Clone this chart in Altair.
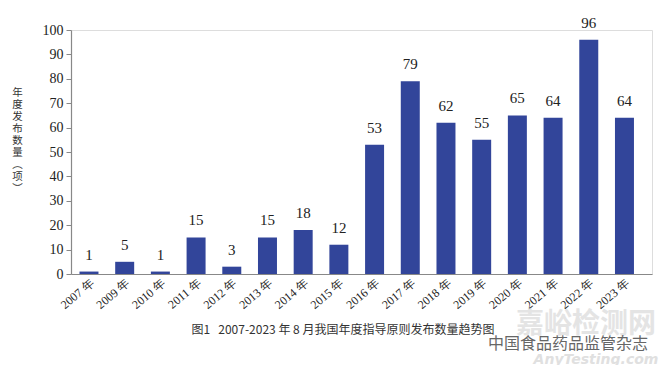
import altair as alt
import pandas as pd

years = ["2007 年", "2009 年", "2010 年", "2011 年", "2012 年", "2013 年", "2014 年", "2015 年",
         "2016 年", "2017 年", "2018 年", "2019 年", "2020 年", "2021 年", "2022 年", "2023 年"]
counts = [1, 5, 1, 15, 3, 15, 18, 12, 53, 79, 62, 55, 65, 64, 96, 64]
y_title = ["年", "度", "发", "布", "数", "量", "︵", "项", "︶"]
caption = "图1\u00a0\u00a0\u00a02007-2023 年 8 月我国年度指导原则发布数量趋势图"
wm_big = "嘉峪检测网"
wm_mid = "中国食品药品监管杂志"
wm_small = "AnyTesting.com"

df = pd.DataFrame({"year": years, "count": counts})

SERIF = "Liberation Serif"
W, H = 581, 244

xscale = alt.Scale(paddingInner=0.468, paddingOuter=0.3715, align=0.32)
yscale = alt.Scale(domain=[0, 100], nice=False)

x = alt.X("year:N", sort=years, scale=xscale,
          axis=alt.Axis(title=None, labelAngle=-40, labelAlign="right", labelBaseline="top",
                        labelFont=SERIF, labelFontSize=12, labelColor="#222",
                        ticks=False, domainColor="#888", domainWidth=1.2, labelPadding=3))
y = alt.Y("count:Q", scale=yscale,
          axis=alt.Axis(title=y_title, titleAngle=0, titleX=-54, titleY=57,
                        titleAlign="center", titleBaseline="top", titleFontSize=10.5,
                        titleLineHeight=12, titleFontWeight="normal", titleColor="#333",
                        titleFont="Noto Sans CJK SC",
                        values=list(range(0, 101, 10)), grid=False, labelOverlap=False,
                        labelFont=SERIF, labelFontSize=14, labelColor="#222",
                        tickColor="#888", tickSize=5, domainColor="#888", domainWidth=1.2,
                        labelPadding=3))

bars = alt.Chart(df).mark_bar(color="#32459a").encode(x=x, y=y)
labels = alt.Chart(df).mark_text(dy=-9, font=SERIF, fontSize=15, color="#222",
                                 baseline="bottom").encode(x=x, y=y, text="count:Q")

cap = alt.Chart(pd.DataFrame({"t": [caption]})).mark_text(
    font="Noto Sans CJK SC", fontSize=12, color="#333", align="center", baseline="middle"
).encode(x=alt.value(272), y=alt.value(300), text="t:N")

wm1 = alt.Chart(pd.DataFrame({"t": [wm_big]})).mark_text(
    font="Noto Sans CJK SC", fontSize=28, color="#e4e4e4", align="center", baseline="middle",
    fontWeight="bold"
).encode(x=alt.value(515), y=alt.value(295), text="t:N")
wm2 = alt.Chart(pd.DataFrame({"t": [wm_mid]})).mark_text(
    font="Noto Sans CJK SC", fontSize=16, color="#666", align="left", baseline="middle"
).encode(x=alt.value(417), y=alt.value(314), text="t:N")
wm3 = alt.Chart(pd.DataFrame({"t": [wm_small]})).mark_text(
    font="DejaVu Sans", fontSize=14, color="#e0e0e0", align="center", baseline="middle",
    fontStyle="italic", fontWeight="bold"
).encode(x=alt.value(525), y=alt.value(330), text="t:N")

chart = alt.layer(bars, labels, wm1, cap, wm2, wm3).properties(
    width=W, height=H,
    autosize=alt.AutoSizeParams(type="none"),
    padding={"left": 63, "top": 22, "right": 8, "bottom": 91},
).configure_view(stroke=None).configure(background="white")

chart.save("out.html", embed_options={"renderer": "svg", "actions": False})
